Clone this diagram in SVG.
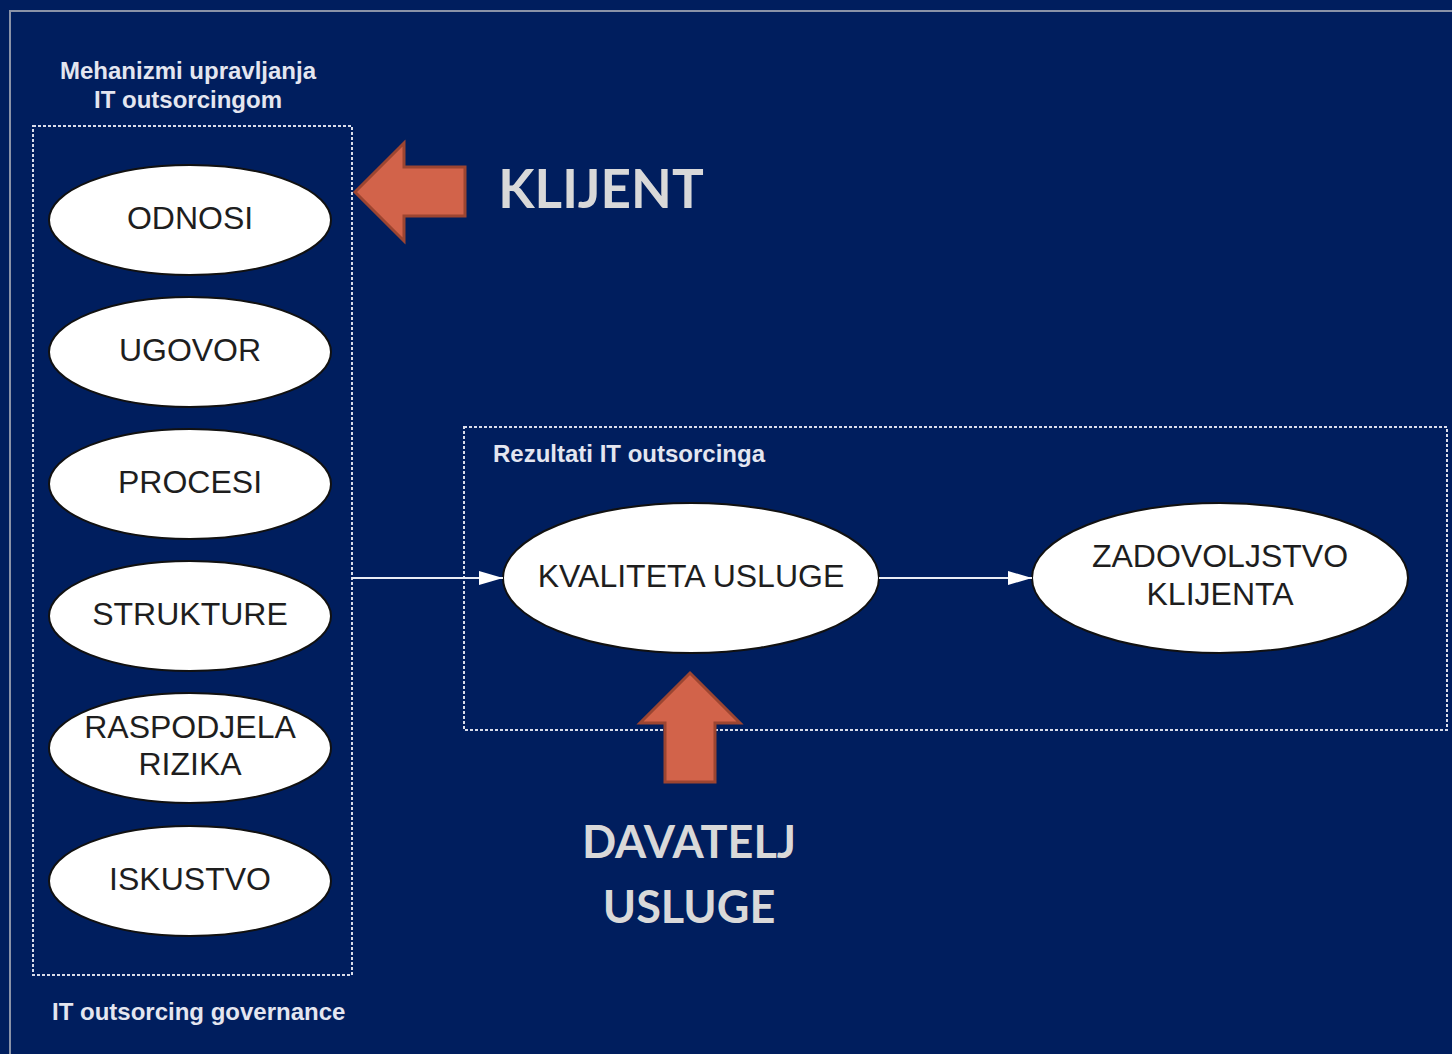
<svg xmlns="http://www.w3.org/2000/svg" width="1452" height="1054" viewBox="0 0 1452 1054">
  <defs>
    <style>
      .node ellipse { fill: #ffffff; stroke: #111111; stroke-width: 2; }
      .node text { font-family: "Liberation Sans", Arial, sans-serif; font-size: 32px; fill: #1e1e1e; text-anchor: middle; }
      .group { fill: none; stroke: #d8dcea; stroke-width: 2; stroke-dasharray: 3 2; }
      .caption { font-family: "Liberation Sans", Arial, sans-serif; font-weight: bold; font-size: 24px; fill: #e4e6f0; }
      .big { font-family: Lato, "Open Sans", sans-serif; font-weight: bold; fill: #d9d9d9; text-anchor: middle; }
      .block { fill: #d2634a; stroke: #9c4531; stroke-width: 3; stroke-linejoin: miter; }
      .conn { stroke: #e8ecf5; stroke-width: 2; fill: none; }
    </style>
    <marker id="arrow" viewBox="0 0 24 16" refX="24" refY="8" markerWidth="24" markerHeight="16" markerUnits="userSpaceOnUse" orient="auto">
      <path d="M0,1 L24,8 L0,15 Z" fill="#ffffff"/>
    </marker>
  </defs>

  <!-- background and frame -->
  <rect x="0" y="0" width="1452" height="1054" fill="#001e5e"/>
  <path d="M10,1054 L10,11 L1452,11" fill="none" stroke="#8a93a8" stroke-width="2"/>

  <!-- governance group -->
  <g id="governance">
    <text class="caption" x="188" y="79" text-anchor="middle">Mehanizmi upravljanja</text>
    <text class="caption" x="188" y="108" text-anchor="middle">IT outsorcingom</text>
    <rect class="group" x="33" y="126" width="319" height="849"/>
    <text class="caption" x="52" y="1020">IT outsorcing governance</text>
  </g>

  <!-- results group -->
  <g id="results">
    <rect class="group" x="464" y="427" width="983" height="303"/>
    <text class="caption" x="493" y="462">Rezultati IT outsorcinga</text>
  </g>

  <g id="odnosi" class="node">
    <ellipse cx="190" cy="220" rx="141" ry="55"/>
    <text x="190" y="229">ODNOSI</text>
  </g>
  <g id="ugovor" class="node">
    <ellipse cx="190" cy="352" rx="141" ry="55"/>
    <text x="190" y="361">UGOVOR</text>
  </g>
  <g id="procesi" class="node">
    <ellipse cx="190" cy="484" rx="141" ry="55"/>
    <text x="190" y="493">PROCESI</text>
  </g>
  <g id="strukture" class="node">
    <ellipse cx="190" cy="616" rx="141" ry="55"/>
    <text x="190" y="625">STRUKTURE</text>
  </g>
  <g id="raspodjela" class="node">
    <ellipse cx="190" cy="748" rx="141" ry="55"/>
    <text x="190" y="738">RASPODJELA</text>
    <text x="190" y="775">RIZIKA</text>
  </g>
  <g id="iskustvo" class="node">
    <ellipse cx="190" cy="881" rx="141" ry="55"/>
    <text x="190" y="890">ISKUSTVO</text>
  </g>

  <g id="kvaliteta" class="node">
    <ellipse cx="691" cy="578" rx="188" ry="75"/>
    <text x="691" y="587">KVALITETA USLUGE</text>
  </g>
  <g id="zadovoljstvo" class="node">
    <ellipse cx="1220" cy="578" rx="188" ry="75"/>
    <text x="1220" y="567">ZADOVOLJSTVO</text>
    <text x="1220" y="605">KLIJENTA</text>
  </g>

  <!-- connectors -->
  <g id="connectors">
    <line class="conn" x1="352" y1="578" x2="503" y2="578" marker-end="url(#arrow)"/>
    <line class="conn" x1="879" y1="578" x2="1032" y2="578" marker-end="url(#arrow)"/>
  </g>

  <!-- client pointer -->
  <g id="klijent">
    <path class="block" d="M355,192 L404,143 L404,167 L465,167 L465,216 L404,216 L404,241 Z"/>
    <text class="big" x="601" y="208" font-size="53">KLIJENT</text>
  </g>

  <!-- provider pointer -->
  <g id="davatelj">
    <path class="block" d="M690,673 L740,723 L715,723 L715,782 L665,782 L665,723 L640,723 Z"/>
    <text class="big" x="689" y="858" font-size="45">DAVATELJ</text>
    <text class="big" x="689" y="923" font-size="45">USLUGE</text>
  </g>
</svg>
